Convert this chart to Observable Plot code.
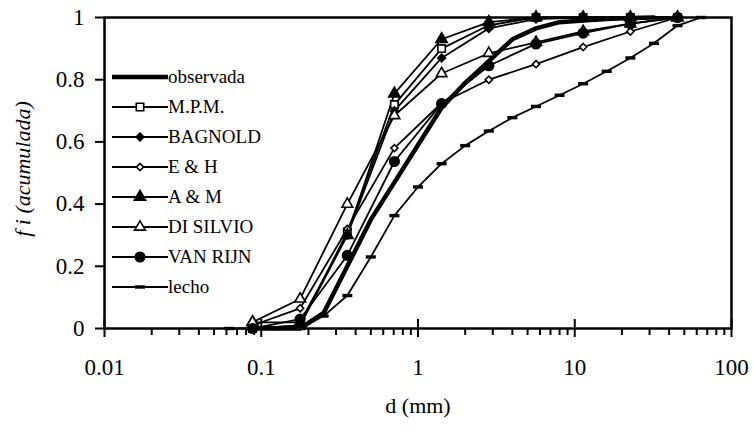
<!DOCTYPE html>
<html><head><meta charset="utf-8">
<script src="https://cdn.jsdelivr.net/npm/d3@7"></script>
<script src="https://cdn.jsdelivr.net/npm/@observablehq/plot@0.6"></script>
<style>
html,body{margin:0;padding:0;background:#fff;}
#wrap{position:relative;width:754px;height:434px;}
#wrap svg text{font-family:"Liberation Serif","Times New Roman",Times,serif;}
#legend{position:absolute;left:112px;top:62px;font-family:"Liberation Serif","Times New Roman",Times,serif;font-size:19px;color:#000;}
.row{display:flex;align-items:center;height:30px;white-space:nowrap;}
.row svg{display:block;}
</style></head><body><div id="wrap"></div>
<script>
// Sieve sizes (mm) for model series
const sieve = [0.088, 0.177, 0.354, 0.707, 1.414, 2.83, 5.66, 11.31, 22.63, 45.25];
const mpm      = [0,    0.01,  0.31,  0.72,  0.90,  0.975, 1.0,   1.0,   1.0,   1.0];
const bagnold  = [0,    0.01,  0.30,  0.70,  0.87,  0.965, 0.995, 1.0,   1.0,   1.0];
const eh       = [0.01, 0.065, 0.32,  0.58,  0.725, 0.80,  0.85,  0.905, 0.955, 1.0];
const am       = [0.02, 0.02,  0.30,  0.755, 0.93,  0.985, 1.0,   1.0,   1.0,   1.0];
const disilvio = [0.02, 0.095, 0.40,  0.685, 0.82,  0.885, 0.92,  0.955, 0.98,  1.0];
const vanrijn  = [0,    0.03,  0.235, 0.537, 0.723, 0.845, 0.915, 0.95,  0.98,  1.0];
// Observed curve
const obsD = [0.088, 0.125, 0.177, 0.25, 0.354, 0.5, 0.707, 1, 1.414, 2, 2.83, 4, 5.66, 8, 11.31, 16, 22.63, 32];
const obsV = [0, 0, 0, 0.05, 0.20, 0.35, 0.47, 0.59, 0.71, 0.79, 0.86, 0.93, 0.965, 0.985, 0.99, 0.995, 0.998, 1];
// Bed material
const bedD = [0.0625, 0.088, 0.125, 0.177, 0.25, 0.354, 0.5, 0.707, 1, 1.414, 2, 2.83, 4, 5.66, 8, 11.31, 16, 22.63, 32, 45.25, 64];
const bedV = [0, 0, 0, 0, 0.04, 0.106, 0.23, 0.363, 0.455, 0.53, 0.588, 0.635, 0.678, 0.714, 0.75, 0.787, 0.827, 0.87, 0.917, 0.974, 1.0];

const xTicks = [0.01, 0.1, 1, 10, 100];
const yTicks = [0, 0.2, 0.4, 0.6, 0.8, 1];
const xMinor = [];
for (const dec of [0.01, 0.1, 1, 10]) for (let k = 2; k <= 9; k++) xMinor.push(+(dec * k).toPrecision(3));

const serif = "'Liberation Serif', 'Times New Roman', Times, serif";
const dash = {draw(ctx) { ctx.rect(-5, -1.7, 10, 3.4); }};

const models = [
  {name: "M.P.M.", vals: mpm, symbol: "square", fill: "white", r: 4.2},
  {name: "BAGNOLD", vals: bagnold, symbol: "diamond2", fill: "black", r: 3.5},
  {name: "E & H", vals: eh, symbol: "diamond2", fill: "white", r: 3.2},
  {name: "A & M", vals: am, symbol: "triangle", fill: "black", r: 4.2},
  {name: "DI SILVIO", vals: disilvio, symbol: "triangle", fill: "white", r: 4.0},
  {name: "VAN RIJN", vals: vanrijn, symbol: "circle", fill: "black", r: 4.8}
];

const marks = [];
// axes
marks.push(Plot.axisY({ticks: yTicks, tickSize: 9, tickPadding: 11, fontSize: 23, tickFormat: d => String(d), strokeWidth: 2, label: null}));
marks.push(Plot.axisX({ticks: xTicks, tickSize: 0, tickPadding: 30, fontSize: 23, tickFormat: d => String(d), label: null}));
marks.push(Plot.ruleX(xMinor, {y1: 0, y2: 0, insetTop: 0, insetBottom: -7, strokeWidth: 2}));
marks.push(Plot.ruleX(xTicks, {y1: 0, y2: 0, insetTop: -9, insetBottom: -9, strokeWidth: 2}));
marks.push(Plot.frame({strokeWidth: 2.5}));
// bed
const bed = bedD.map((d, i) => ({d, v: bedV[i]}));
marks.push(Plot.line(bed, {x: "d", y: "v", stroke: "black", strokeWidth: 1.8}));
marks.push(Plot.dot(bed, {x: "d", y: "v", symbol: dash, fill: "black", stroke: "none"}));
// models
for (const m of models) {
  const data = sieve.map((d, i) => ({d, v: m.vals[i]}));
  marks.push(Plot.line(data, {x: "d", y: "v", stroke: "black", strokeWidth: 1.8}));
}
// observed
const obs = obsD.map((d, i) => ({d, v: obsV[i]}));
marks.push(Plot.line(obs, {x: "d", y: "v", stroke: "black", strokeWidth: 4.5}));
for (const m of models) {
  const data = sieve.map((d, i) => ({d, v: m.vals[i]}));
  marks.push(Plot.dot(data, {x: "d", y: "v", symbol: m.symbol, r: m.r, fill: m.fill, stroke: "black", strokeWidth: 1.6}));
}
// titles
marks.push(Plot.text(["d (mm)"], {frameAnchor: "bottom", dy: 84, fontSize: 22, fontFamily: serif}));
marks.push(Plot.text(["f i (acumulada)"], {frameAnchor: "left", textAnchor: "middle", dx: -82, dy: -4, rotate: -90, fontSize: 22, fontStyle: "italic", fontFamily: serif}));

const chart = Plot.plot({
  width: 754, height: 434,
  marginLeft: 104, marginRight: 23, marginTop: 17, marginBottom: 106,
  style: {fontFamily: serif, color: "black", background: "white", overflow: "visible"},
  x: {type: "log", domain: [0.01, 100], label: null},
  y: {domain: [0, 1], label: null},
  marks
});
document.getElementById("wrap").appendChild(chart);

// legend
const legend = document.createElement("div");
legend.id = "legend";
const entries = [{name: "observada", obs: true}, ...models, {name: "lecho", bed: true}];
const symMap = {square: d3.symbolSquare, diamond2: d3.symbolDiamond2, triangle: d3.symbolTriangle, circle: d3.symbolCircle};
for (const e of entries) {
  const row = document.createElement("div");
  row.className = "row";
  const svg = d3.create("svg").attr("width", 56).attr("height", 30);
  svg.append("line").attr("x1", 0).attr("x2", 56).attr("y1", 15).attr("y2", 15)
    .attr("stroke", "black").attr("stroke-width", e.obs ? 4.5 : 1.8);
  if (e.bed) {
    svg.append("rect").attr("x", 23).attr("y", 13.3).attr("width", 10).attr("height", 3.4).attr("fill", "black");
  } else if (!e.obs) {
    svg.append("path").attr("transform", "translate(28,15)")
      .attr("d", d3.symbol(symMap[e.symbol], Math.PI * e.r * e.r)())
      .attr("fill", e.fill).attr("stroke", "black").attr("stroke-width", 1.6);
  }
  row.appendChild(svg.node());
  const span = document.createElement("span");
  span.textContent = e.name;
  row.appendChild(span);
  legend.appendChild(row);
}
document.getElementById("wrap").appendChild(legend);
</script></body></html>
